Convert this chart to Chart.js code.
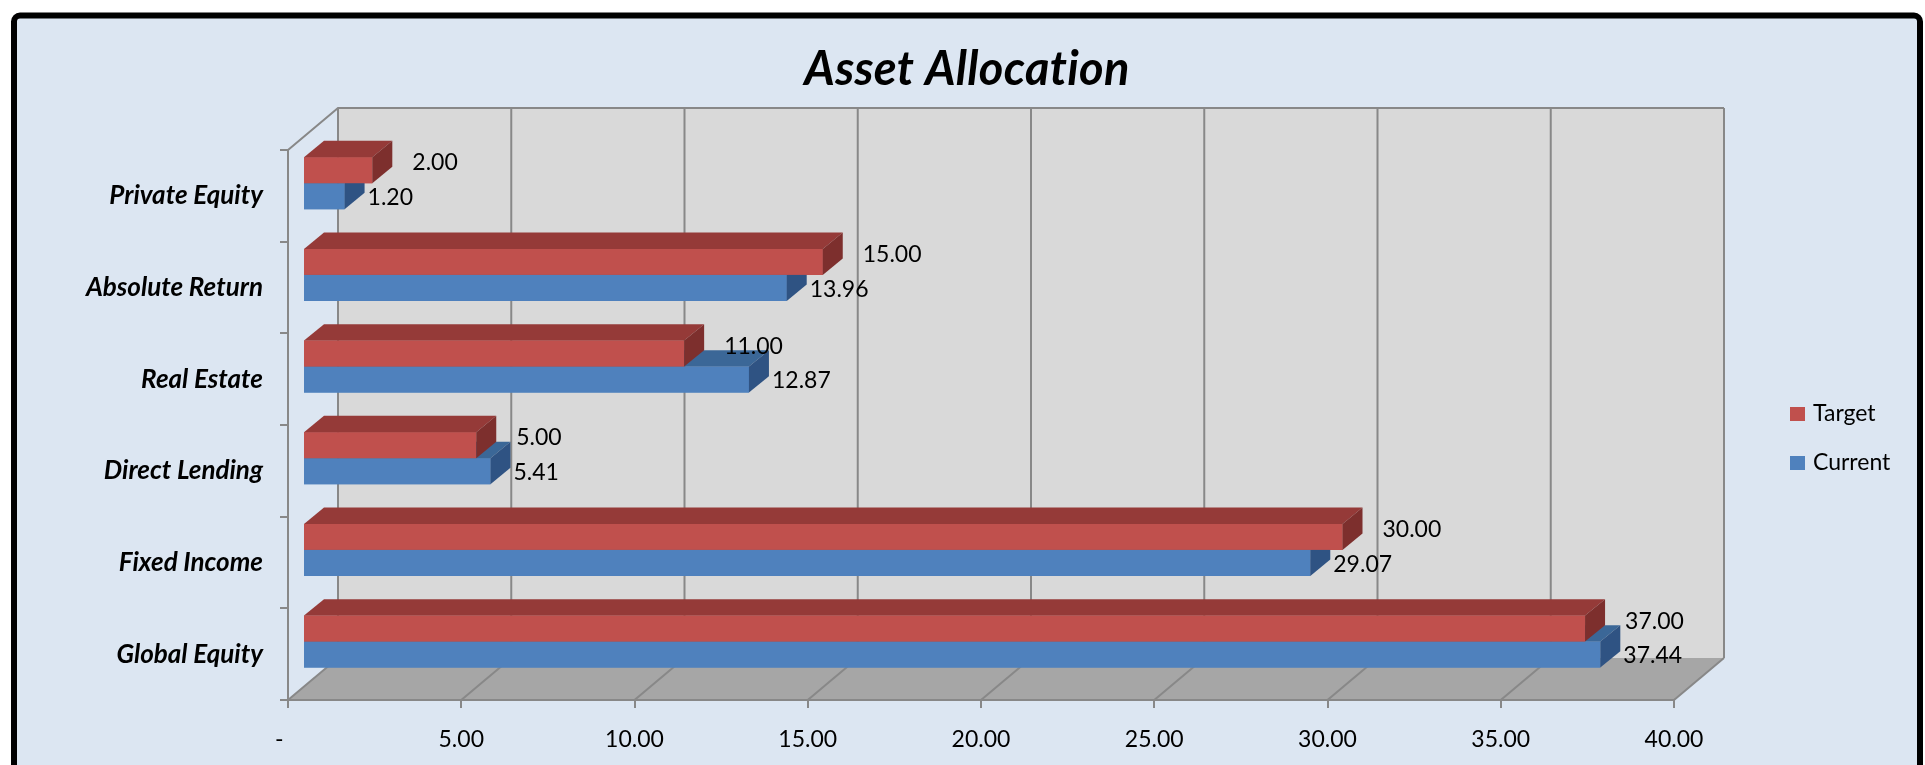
<!DOCTYPE html>
<html>
<head>
<meta charset="utf-8">
<script src="https://cdn.jsdelivr.net/npm/chart.js@4.4.1/dist/chart.umd.min.js"></script>
<style>
  html, body { margin: 0; padding: 0; background: #ffffff; overflow: hidden; }
  canvas { display: block; }
</style>
</head>
<body>
<canvas id="c" width="1925" height="765"></canvas>
<script>
// ---------- data ----------
const chartTitle = 'Asset Allocation';
const categories = ['Private Equity', 'Absolute Return', 'Real Estate', 'Direct Lending', 'Fixed Income', 'Global Equity'];
const seriesNames = ['Target', 'Current'];
const targetValues = [2.00, 15.00, 11.00, 5.00, 30.00, 37.00];
const currentValues = [1.20, 13.96, 12.87, 5.41, 29.07, 37.44];
const xTickLabels = ['-   ', '5.00', '10.00', '15.00', '20.00', '25.00', '30.00', '35.00', '40.00'];

// ---------- styles ----------
const FRONT = ['#C0504D', '#4F81BD'];
const TOP = ['#953A38', '#3B6797'];
const SIDE = ['#7D2F2D', '#2F5383'];
const WALL_D = { x: 50, y: -42 };     // depth of the whole plot box
const BAR_OFF = { x: 15, y: -12.6 };  // bars' front plane inside the box
const BAR_D = { x: 20, y: -16.4 };    // bar depth
const GRID = '#888888';

const threeD = {
  id: 'threeD',
  beforeDraw(chart) {
    const ctx = chart.ctx;
    ctx.save();
    ctx.fillStyle = '#ffffff';
    ctx.fillRect(0, 0, chart.width, chart.height);
    ctx.beginPath();
    ctx.roundRect(14, 15.5, 1906, 900, 6);
    ctx.fillStyle = '#DCE6F2';
    ctx.fill();
    ctx.lineWidth = 6;
    ctx.strokeStyle = '#000000';
    ctx.stroke();
    ctx.fillStyle = '#000000';
    ctx.font = 'italic bold 47px Lato';
    ctx.letterSpacing = '0.3px';
    ctx.textAlign = 'center';
    ctx.textBaseline = 'middle';
    ctx.fillText(chartTitle, 967, 69.5);
    ctx.restore();
  },
  beforeDatasetsDraw(chart) {
    const ctx = chart.ctx;
    const a = chart.chartArea;
    const xs = chart.scales.x;
    const dx = WALL_D.x, dy = WALL_D.y;
    ctx.save();
    // back wall
    ctx.fillStyle = '#D9D9D9';
    ctx.fillRect(a.left + dx, a.top + dy, a.right - a.left, a.bottom - a.top);
    // floor
    ctx.beginPath();
    ctx.moveTo(a.left, a.bottom);
    ctx.lineTo(a.right, a.bottom);
    ctx.lineTo(a.right + dx, a.bottom + dy);
    ctx.lineTo(a.left + dx, a.bottom + dy);
    ctx.closePath();
    ctx.fillStyle = '#A6A6A6';
    ctx.fill();
    // grid lines
    ctx.strokeStyle = GRID;
    ctx.lineWidth = 2;
    xs.ticks.forEach(t => {
      const px = xs.getPixelForValue(t.value);
      ctx.beginPath();
      ctx.moveTo(px + dx, a.top + dy);
      ctx.lineTo(px + dx, a.bottom + dy);
      ctx.stroke();
      ctx.beginPath();
      ctx.moveTo(px, a.bottom);
      ctx.lineTo(px + dx, a.bottom + dy);
      ctx.stroke();
    });
    ctx.beginPath();
    ctx.moveTo(a.left, a.top);
    ctx.lineTo(a.left + dx, a.top + dy);
    ctx.lineTo(a.right + dx, a.top + dy);
    ctx.stroke();
    ctx.restore();
    // bars' front faces drawn by Chart.js inside the box
    ctx.save();
    ctx.translate(BAR_OFF.x, BAR_OFF.y);
  },
  afterDatasetsDraw(chart) {
    const ctx = chart.ctx;
    ctx.restore();
    ctx.save();
    const metas = [chart.getDatasetMeta(0), chart.getDatasetMeta(1)];
    const bx = BAR_D.x, by = BAR_D.y;
    const boxes = [];
    for (let i = categories.length - 1; i >= 0; i--) {
      for (const d of [1, 0]) {
        const el = metas[d].data[i];
        const p = el.getProps(['x', 'y', 'base', 'height'], true);
        const x0 = Math.min(p.base, p.x) + BAR_OFF.x;
        const x1 = Math.max(p.base, p.x) + BAR_OFF.x;
        const yT = p.y - p.height / 2 + BAR_OFF.y;
        const yB = p.y + p.height / 2 + BAR_OFF.y;
        ctx.fillStyle = FRONT[d];
        ctx.fillRect(x0, yT, x1 - x0, yB - yT);
        ctx.beginPath();
        ctx.moveTo(x0, yT); ctx.lineTo(x1, yT); ctx.lineTo(x1 + bx, yT + by); ctx.lineTo(x0 + bx, yT + by);
        ctx.closePath();
        ctx.fillStyle = TOP[d];
        ctx.fill();
        ctx.beginPath();
        ctx.moveTo(x1, yT); ctx.lineTo(x1 + bx, yT + by); ctx.lineTo(x1 + bx, yB + by); ctx.lineTo(x1, yB);
        ctx.closePath();
        ctx.fillStyle = SIDE[d];
        ctx.fill();
        boxes.push({ d, i, x1, yT, yB });
      }
    }
    // value labels
    ctx.fillStyle = '#000000';
    ctx.font = '23px Lato';
    ctx.textAlign = 'left';
    ctx.textBaseline = 'middle';
    boxes.forEach(b => {
      const v = chart.data.datasets[b.d].data[b.i];
      if (b.d === 0) {
        ctx.fillText(v.toFixed(2), b.x1 + bx + 20, b.yT + 5.5);
      } else {
        ctx.fillText(v.toFixed(2), b.x1 + bx + 3, (b.yT + b.yB) / 2 + 1.5);
      }
    });
    ctx.restore();
  },
  afterDraw(chart) {
    const ctx = chart.ctx;
    ctx.save();
    ctx.font = '23px Lato';
    ctx.textAlign = 'left';
    ctx.textBaseline = 'middle';
    chart.data.datasets.forEach((ds, k) => {
      const cy = 414 + k * 49;
      ctx.fillStyle = ds.backgroundColor;
      ctx.fillRect(1790, cy - 7, 15, 14);
      ctx.fillStyle = '#000000';
      ctx.fillText(ds.label, 1813, cy);
    });
    ctx.restore();
  }
};

Chart.defaults.font.family = 'Lato';
Chart.defaults.color = '#000000';

new Chart(document.getElementById('c'), {
  type: 'bar',
  data: {
    labels: categories,
    datasets: [
      { label: seriesNames[0], data: targetValues, backgroundColor: FRONT[0] },
      { label: seriesNames[1], data: currentValues, backgroundColor: FRONT[1] }
    ]
  },
  options: {
    indexAxis: 'y',
    responsive: false,
    maintainAspectRatio: false,
    animation: false,
    devicePixelRatio: 1,
    layout: { padding: { left: 20, top: 150, right: 251, bottom: 0 } },
    datasets: { bar: { categoryPercentage: 0.567, barPercentage: 1.0 } },
    plugins: { legend: { display: false }, title: { display: false }, tooltip: { enabled: false } },
    scales: {
      x: {
        type: 'linear', min: 0, max: 40,
        afterFit: s => { s.height = 65; },
        ticks: {
          stepSize: 5,
          padding: 18,
          font: { size: 23 },
          color: '#000000',
          callback: (v, i) => xTickLabels[i]
        },
        grid: { drawOnChartArea: false, drawTicks: true, tickLength: 8, color: GRID, lineWidth: 2 },
        border: { display: true, color: GRID, width: 2, z: 1 }
      },
      y: {
        type: 'category', offset: true,
        afterFit: s => { s.width = 268; },
        ticks: {
          padding: 17,
          font: { size: 26, style: 'italic', weight: 'bold' },
          color: '#000000'
        },
        grid: { offset: true, drawOnChartArea: false, drawTicks: true, tickLength: 8, color: GRID, lineWidth: 2 },
        border: { display: true, color: GRID, width: 2, z: 1 }
      }
    }
  },
  plugins: [threeD]
});
</script>
</body>
</html>
